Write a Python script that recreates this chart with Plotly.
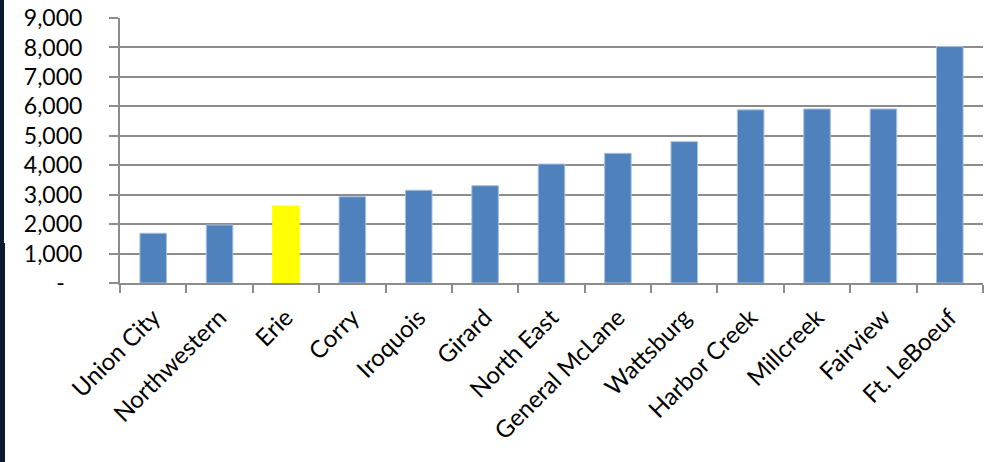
import plotly.graph_objects as go

districts = ["Union City", "Northwestern", "Erie", "Corry", "Iroquois", "Girard",
             "North East", "General McLane", "Wattsburg", "Harbor Creek",
             "Millcreek", "Fairview", "Ft. LeBoeuf"]
values = [1690, 1970, 2615, 2930, 3150, 3305, 4040, 4405, 4800, 5880, 5910, 5910, 8030]
highlight = "Erie"

y_ticks = [0, 1000, 2000, 3000, 4000, 5000, 6000, 7000, 8000, 9000]
y_labels = ["-\u00a0\u00a0\u00a0"] + [f"{v:,}" for v in y_ticks[1:]]

BLUE = "#4F81BD"
YELLOW = "#FFFF00"
GRID = "#8C8C8C"
EDGE_DARK = "#0B1A2E"

colors = [YELLOW if d == highlight else BLUE for d in districts]
edges = [YELLOW if d == highlight else "#A7C0DE" for d in districts]

# plot area in pixels
L, R, T, B = 120, 17, 18, 179
W, H = 1000, 462
PW, PH = W - L - R, H - T - B


def px_x(x):
    return (x - L) / PW


def px_y(y):
    return (H - B - y) / PH


fig = go.Figure(go.Bar(
    x=districts, y=values,
    marker=dict(color=colors, line=dict(color=edges, width=1)),
    width=0.4,
))

fig.update_layout(
    width=W, height=H,
    margin=dict(l=L, r=R, t=T, b=B),
    paper_bgcolor="white", plot_bgcolor="white",
    showlegend=False,
    font=dict(family="Lato", size=23, color="black"),
    shapes=[
        # dark border strip along the left edge
        dict(type="rect", xref="paper", yref="paper",
             x0=px_x(0), x1=px_x(4), y0=px_y(H), y1=px_y(0),
             fillcolor=EDGE_DARK, line=dict(width=0), layer="above"),
        dict(type="rect", xref="paper", yref="paper",
             x0=px_x(0), x1=px_x(5), y0=px_y(H), y1=px_y(243),
             fillcolor=EDGE_DARK, line=dict(width=0), layer="above"),
    ],
)

fig.update_xaxes(
    type="category",
    automargin=False,
    tickangle=-45,
    showline=True, linecolor=GRID, linewidth=2,
    ticks="outside", tickson="boundaries", ticklen=8, tickcolor=GRID, tickwidth=2,
    ticklabelstandoff=9,
    showgrid=False, zeroline=False,
    tickfont=dict(family="Lato", size=24, color="black"),
)

fig.update_yaxes(
    range=[0, 9000],
    automargin=False,
    tickmode="array", tickvals=y_ticks, ticktext=y_labels,
    showgrid=True, gridcolor=GRID, gridwidth=2,
    showline=True, linecolor=GRID, linewidth=2,
    ticks="outside", ticklen=9, tickcolor=GRID, tickwidth=2,
    ticklabelstandoff=22,
    zeroline=False,
    tickfont=dict(family="Lato", size=23, color="black"),
)

fig.write_html("out.html")
